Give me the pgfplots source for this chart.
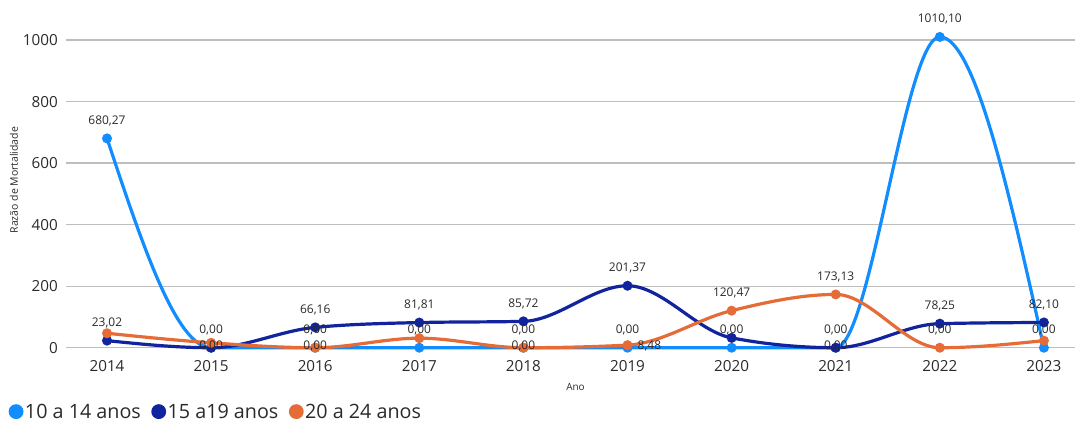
\documentclass[border=0pt]{standalone}
\usepackage{pgfplots}
\pgfplotsset{compat=1.18}
\usepackage{fontspec}
\setmainfont{Open Sans}
\definecolor{lb}{HTML}{118DFF}
\definecolor{db}{HTML}{12239E}
\definecolor{orng}{HTML}{E66C37}
\definecolor{txt}{HTML}{2B2A29}
\definecolor{gridc}{HTML}{BEBEBE}

% monotone cubic (monotoneX-like) plot handler
\makeatletter
\def\pgfplothandlermonotone{%
  \def\pgf@plotstreamstart{%
    \global\let\pgf@plotstreampoint=\mono@pointA
    \global\let\pgf@plotstreamspecial=\pgfutil@gobble
    \global\let\pgf@plotstreamend=\mono@end
    \gdef\mono@n{0}%
  }%
}
\def\mono@pointA#1{%
  \pgf@process{#1}%
  \xdef\mono@xa{\pgf@sys@tonumber\pgf@x}%
  \xdef\mono@ya{\pgf@sys@tonumber\pgf@y}%
  \pgf@plot@first@action{\pgfqpoint{\mono@xa pt}{\mono@ya pt}}%
  \gdef\mono@n{1}%
  \global\let\pgf@plotstreampoint=\mono@pointB
}
\def\mono@pointB#1{%
  \pgf@process{#1}%
  \xdef\mono@xb{\pgf@sys@tonumber\pgf@x}%
  \xdef\mono@yb{\pgf@sys@tonumber\pgf@y}%
  \pgfmathsetmacro\mono@tmp{(\mono@yb-\mono@ya)/(\mono@xb-\mono@xa)}%
  \xdef\mono@sprev{\mono@tmp}%
  \gdef\mono@n{2}%
  \global\let\pgf@plotstreampoint=\mono@pointC
}
\def\mono@segment#1#2#3#4#5#6{%
  \pgfmathsetmacro\mono@h{(#4-#1)/3}%
  \pgfmathsetmacro\mono@cax{#1+\mono@h}%
  \pgfmathsetmacro\mono@cay{#2+(#3)*\mono@h}%
  \pgfmathsetmacro\mono@cbx{#4-\mono@h}%
  \pgfmathsetmacro\mono@cby{#5-(#6)*\mono@h}%
  \pgfpathcurveto{\pgfqpoint{\mono@cax pt}{\mono@cay pt}}{\pgfqpoint{\mono@cbx pt}{\mono@cby pt}}{\pgfqpoint{#4pt}{#5pt}}%
}
\def\mono@pointC#1{%
  \pgf@process{#1}%
  \xdef\mono@xc{\pgf@sys@tonumber\pgf@x}%
  \xdef\mono@yc{\pgf@sys@tonumber\pgf@y}%
  \pgfmathsetmacro\mono@hz{\mono@xb-\mono@xa}%
  \pgfmathsetmacro\mono@ho{\mono@xc-\mono@xb}%
  \pgfmathsetmacro\mono@sz{(\mono@yb-\mono@ya)/\mono@hz}%
  \pgfmathsetmacro\mono@so{(\mono@yc-\mono@yb)/\mono@ho}%
  \pgfmathsetmacro\mono@p{(\mono@sz*\mono@ho+\mono@so*\mono@hz)/(\mono@hz+\mono@ho)}%
  \pgfmathsetmacro\mono@sg{(\mono@sz>0) ? 1 : -1}%
  \pgfmathsetmacro\mono@prod{\mono@sz*\mono@so}%
  \pgfmathsetmacro\mono@mbb{(\mono@prod>0) ? (\mono@sg*min(2*abs(\mono@sz),2*abs(\mono@so),abs(\mono@p))) : 0}%
  \ifnum\mono@n=2
    \pgfmathsetmacro\mono@tmp{(3*\mono@sz-\mono@mbb)/2}%
    \xdef\mono@ma{\mono@tmp}%
  \fi
  \mono@segment{\mono@xa}{\mono@ya}{\mono@ma}{\mono@xb}{\mono@yb}{\mono@mbb}%
  \xdef\mono@xa{\mono@xb}\xdef\mono@ya{\mono@yb}\xdef\mono@ma{\mono@mbb}%
  \xdef\mono@xb{\mono@xc}\xdef\mono@yb{\mono@yc}%
  \xdef\mono@sprev{\mono@so}%
  \gdef\mono@n{3}%
}
\def\mono@end{%
  \ifnum\mono@n=2
    \pgfpathlineto{\pgfqpoint{\mono@xb pt}{\mono@yb pt}}%
  \else\ifnum\mono@n=3
    \pgfmathsetmacro\mono@tmp{(3*\mono@sprev-\mono@ma)/2}%
    \mono@segment{\mono@xa}{\mono@ya}{\mono@ma}{\mono@xb}{\mono@yb}{\mono@tmp}%
  \fi\fi
}
\tikzset{monotone/.code={\let\tikz@plot@handler=\pgfplothandlermonotone}}
\makeatother

\pgfplotstableread{
x    lb       db      or
2014 680.27   23.02   47
2015 0        0       16
2016 0        66.16   0
2017 0        81.81   31
2018 0        85.72   0
2019 0        201.37  8.48
2020 0        32      120.47
2021 0        0       173.13
2022 1010.10  78.25   0
2023 0        82.10   23
}\datatable

\pgfplotstableread{
x    y        lab
2014 680.27   680,27
2014 23.02    23,02
2015 0        0,00
2016 66.16    66,16
2016 0        0,00
2017 81.81    81,81
2017 0        0,00
2018 85.72    85,72
2018 0        0,00
2019 201.37   201,37
2019 0        0,00
2020 120.47   120,47
2020 0        0,00
2021 173.13   173,13
2021 0        0,00
2022 1010.10  1010,10
2022 78.25    78,25
2022 0        0,00
2023 82.10    82,10
2023 0        0,00
}\upperlabels

\pgfplotstableread{
x    y   lab
2015 0   0,00
2016 0   0,00
2018 0   0,00
2021 0   0,00
}\lowerlabels

\pgfplotstableread{
x    y     lab
2019 8.48  8,48
}\sidelabels

\begin{document}
\begin{tikzpicture}
\path[use as bounding box] (0,0) rectangle (1075bp,-423bp);
\begin{axis}[
  at={(66bp,-3.08bp)}, anchor=north west,
  scale only axis, width=1009bp, height=347.1bp,
  xmin=2013.606, xmax=2023.298, ymin=-8, ymax=1120,
  axis line style={draw=none},
  tick style={draw=none},
  major tick length=0pt,
  xtick={2014,2015,...,2023},
  ytick={0,200,...,1000},
  ymajorgrids,
  grid style={gridc, line width=1.3bp},
  /pgf/number format/assume math mode=true,
  /pgf/number format/1000 sep={},
  tick label style={font=\fontsize{15.3}{17}\selectfont, text=txt},
  yticklabel style={inner sep=0pt, anchor=east, xshift=-8bp},
  xticklabel style={inner sep=0pt, anchor=north, yshift=-10bp},
  xlabel={Ano},
  ylabel={Razão de Mortalidade},
  every axis x label/.style={at={(axis description cs:0.505,0)}, anchor=center, yshift=-37bp, font=\fontsize{10}{12}\selectfont, text=txt},
  every axis y label/.style={at={(axis description cs:0,0.49)}, rotate=90, anchor=center, yshift=52bp, font=\fontsize{10.5}{12}\selectfont, text=txt},
  legend columns=-1,
  legend image code/.code={\fill[#1] (0bp,0bp) circle (5.8bp);},
  legend style={at={(axis description cs:-0.057,-0.177)}, anchor=west, draw=none, fill=none, inner sep=0pt,
    font=\fontsize{19.8}{22}\selectfont, text=txt,
    nodes={inner sep=1.5bp},
    /tikz/every even column/.append style={column sep=9bp}},
]
\addplot[color=lb, line width=3.2bp, mark=*, mark size=3.3bp, monotone] table[x=x, y=lb] {\datatable};
\addlegendentry{10 a 14 anos}
\addplot[color=db, line width=3.2bp, mark=*, mark size=3.3bp, monotone] table[x=x, y=db] {\datatable};
\addlegendentry{15 a19 anos}
\addplot[color=orng, line width=3.2bp, mark=*, mark size=3.3bp, monotone] table[x=x, y=or] {\datatable};
\addlegendentry{20 a 24 anos}

\addplot[forget plot, draw=none, mark=none, point meta=explicit symbolic,
  nodes near coords, nodes near coords align={anchor=center},
  every node near coord/.append style={anchor=center, yshift=17.5bp, font=\fontsize{12}{14}\selectfont, text=txt, inner sep=0pt}]
  table[x=x, y=y, meta=lab] {\upperlabels};
\addplot[forget plot, draw=none, mark=none, point meta=explicit symbolic,
  nodes near coords, nodes near coords align={anchor=center},
  every node near coord/.append style={anchor=center, yshift=1.5bp, font=\fontsize{12}{14}\selectfont, text=txt, inner sep=0pt}]
  table[x=x, y=y, meta=lab] {\lowerlabels};
\addplot[forget plot, draw=none, mark=none, point meta=explicit symbolic,
  nodes near coords, nodes near coords align={anchor=west},
  every node near coord/.append style={anchor=west, xshift=10bp, yshift=-1bp, font=\fontsize{12}{14}\selectfont, text=txt, inner sep=0pt}]
  table[x=x, y=y, meta=lab] {\sidelabels};
\end{axis}
\end{tikzpicture}
\end{document}
